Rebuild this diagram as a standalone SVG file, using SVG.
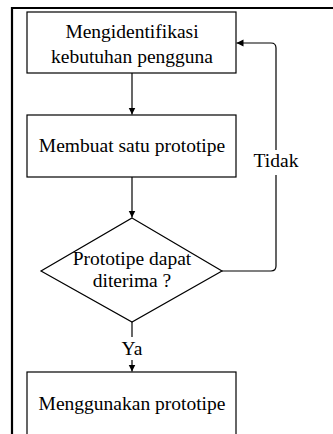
<svg xmlns="http://www.w3.org/2000/svg" width="333" height="434" viewBox="0 0 333 434">
<style>
.n{fill:#fff;stroke:#000;stroke-width:1.2}
.t{font-family:"Liberation Serif","Times New Roman",serif;font-size:19.5px;fill:#000;text-anchor:middle}
.c{fill:none;stroke:#000;stroke-width:1.2}
</style>
<defs>
<marker id="ah" markerWidth="8" markerHeight="8" refX="7" refY="4" orient="auto" markerUnits="userSpaceOnUse">
<path d="M0,0.5 L7,4 L0,7.5 Z" fill="#000"/>
</marker>
</defs>
<rect width="333" height="434" fill="#fff"/>
<path d="M12,434 V8 H333" fill="none" stroke="#000" stroke-width="2.2"/>
<g id="connectors">
<path class="c" d="M132,73 V114.5" marker-end="url(#ah)"/>
<path class="c" d="M132,177 V217.5" marker-end="url(#ah)"/>
<path class="c" d="M222,271 H271 Q276,271 276,266 V48 Q276,43 271,43 H236.5" marker-end="url(#ah)"/>
<path class="c" d="M132,322 V337"/>
<path class="c" d="M132,360 V371.5" marker-end="url(#ah)"/>
<rect x="252" y="150" width="47" height="25" fill="#fff"/>
<text class="t" x="276" y="167">Tidak</text>
<text class="t" x="132" y="355">Ya</text>
</g>
<g id="n1">
<rect class="n" x="27" y="12" width="209" height="61"/>
<text class="t" x="132" y="38">Mengidentifikasi</text>
<text class="t" x="132" y="63">kebutuhan pengguna</text>
</g>
<g id="n2">
<rect class="n" x="27" y="115" width="209" height="62"/>
<text class="t" x="132" y="152">Membuat satu prototipe</text>
</g>
<g id="n3">
<path class="n" d="M132,218 L222,271 L132,322 L41,271 Z"/>
<text class="t" x="132" y="265">Prototipe dapat</text>
<text class="t" x="132" y="287">diterima ?</text>
</g>
<g id="n4">
<rect class="n" x="27" y="372" width="209" height="80"/>
<text class="t" x="132" y="410">Menggunakan prototipe</text>
</g>
</svg>
